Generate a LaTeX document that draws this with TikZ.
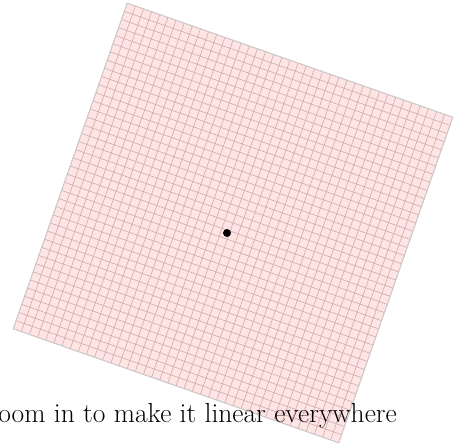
\documentclass[tikz,border=0pt]{standalone}
\usetikzlibrary{positioning}
\definecolor{SheetPink}{RGB}{255,228,228}
\definecolor{SheetLine}{RGB}{205,170,175}

\begin{document}
\begin{tikzpicture}[x=1pt, y=1pt,
    sheet/.style={fill=SheetPink, draw=gray!40, line width=0.9pt},
    gridline/.style={SheetLine, line width=0.6pt},
    dot/.style={circle, fill=black, inner sep=0pt, minimum size=8pt},
    caption/.style={font=\fontsize{27.5}{33}\selectfont, inner sep=0pt, anchor=base east}
  ]
    \useasboundingbox (0,0) rectangle (455,445);
    % the rotated sheet of squares
    \begin{scope}[shift={(233,222)}, rotate=-19.3]
      \fill[SheetPink] (-172.5,-172.5) rectangle (172.5,172.5);
      \foreach \i in {0,...,40} {
        \draw[gridline] (-172.5+\i*8.625,-172.5) -- (-172.5+\i*8.625,172.5);
        \draw[gridline] (-172.5,-172.5+\i*8.625) -- (172.5,-172.5+\i*8.625);
      }
      \draw[draw=gray!40, line width=0.9pt] (-172.5,-172.5) rectangle (172.5,172.5);
    \end{scope}

    \node[dot] (origin) at (227,212) {};
    \node[caption] (caption) at (397,23) {Zoom in to make it linear everywhere};
  \end{tikzpicture}
\end{document}
